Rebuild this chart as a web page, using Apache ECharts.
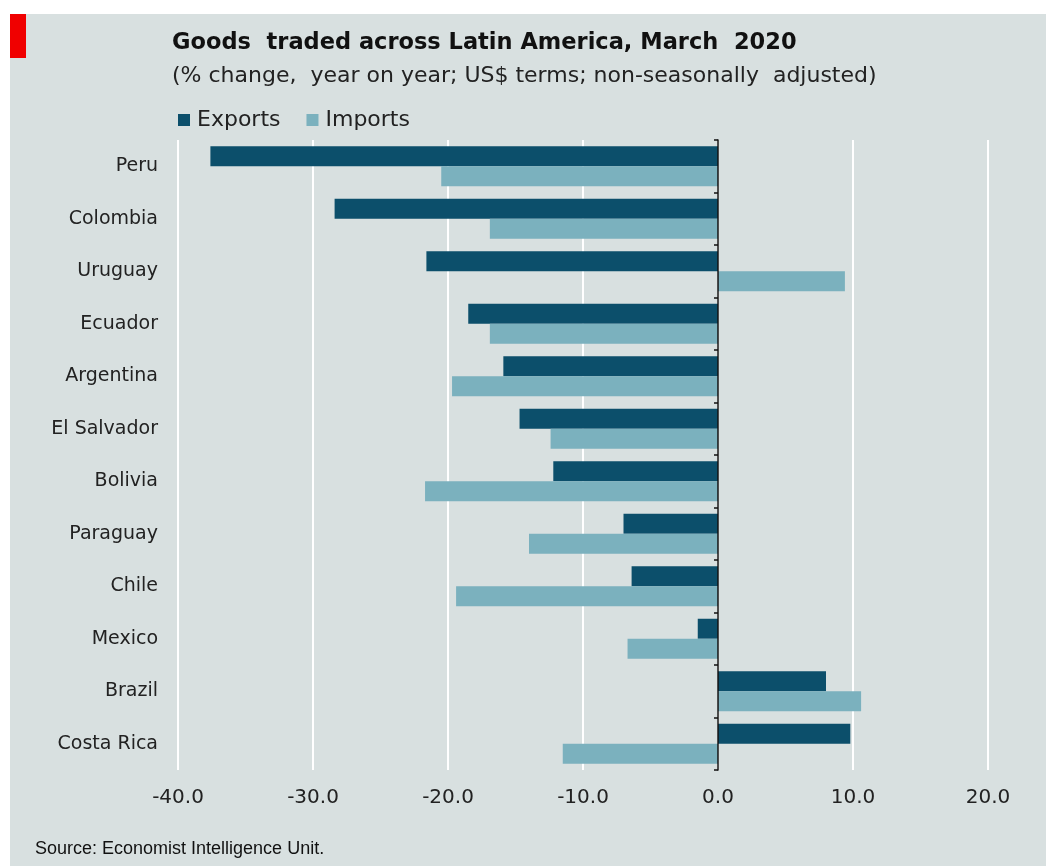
<!DOCTYPE html>
<html>
<head>
<meta charset="utf-8">
<script src="https://cdn.jsdelivr.net/npm/echarts@6/dist/echarts.min.js"></script>
<style>
  html, body { margin: 0; padding: 0; background: #ffffff; }
  #chart { width: 1046px; height: 866px; }
</style>
</head>
<body>
<div id="chart"></div>
<script>
// 国家（从上到下）
const countries = ["Peru", "Colombia", "Uruguay", "Ecuador", "Argentina", "El Salvador",
  "Bolivia", "Paraguay", "Chile", "Mexico", "Brazil", "Costa Rica"];
// 出口 / 进口 同比变化 %
const exportsData = [-37.6, -28.4, -21.6, -18.5, -15.9, -14.7, -12.2, -7.0, -6.4, -1.5, 8.0, 9.8];
const importsData = [-20.5, -16.9, 9.4, -16.9, -19.7, -12.4, -21.7, -14.0, -19.4, -6.7, 10.6, -11.5];
// x 轴刻度
const xMin = -40;
const xMax = 20;
const xStep = 10;

const chart = echarts.init(document.getElementById("chart"));
const font = "'DejaVu Sans', Verdana, sans-serif";

const option = {
  backgroundColor: "#ffffff",
  animation: false,
  graphic: [
    // 灰色底板
    { type: "rect", left: 10, top: 14, z: -10,
      shape: { width: 1036, height: 852 }, style: { fill: "#d8e0e0" } },
    // 左上角红块
    { type: "rect", left: 10, top: 14, z: -5,
      shape: { width: 16, height: 44 }, style: { fill: "#f00000" } },
    // 来源
    { type: "text", left: 35, top: 840,
      style: { text: "Source: Economist Intelligence Unit.", fill: "#111",
        font: "18px 'Liberation Sans Narrow', 'Arial Narrow', sans-serif" } },
  ],
  title: {
    text: "Goods  traded across Latin America, March  2020",
    subtext: "(% change,  year on year; US$ terms; non-seasonally  adjusted)",
    left: 167,
    top: 27,
    itemGap: 10,
    textStyle: { fontFamily: font, fontSize: 22.5, fontWeight: "bold", color: "#111" },
    subtextStyle: { fontFamily: font, fontSize: 22, color: "#222" },
  },
  legend: {
    left: 173,
    top: 104,
    itemWidth: 12,
    itemHeight: 12,
    itemGap: 26,
    icon: "rect",
    textStyle: { fontFamily: font, fontSize: 22, color: "#222", padding: [0, 0, 0, 2] },
    data: ["Exports", "Imports"],
  },
  grid: { left: 178, right: 58, top: 140, bottom: 96, containLabel: false },
  xAxis: {
    type: "value",
    min: xMin,
    max: xMax,
    interval: xStep,
    axisLine: { show: false },
    axisTick: { show: false },
    splitLine: { show: true, lineStyle: { color: "#ffffff", width: 2 } },
    axisLabel: {
      margin: 18,
      fontFamily: font,
      fontSize: 20,
      color: "#222",
      formatter: (v) => v.toFixed(1),
    },
  },
  yAxis: [
    {
      type: "category",
      data: countries,
      inverse: true,
      axisLine: { show: false, onZero: false },
      axisTick: { show: false },
      axisLabel: { margin: 20, fontFamily: font, fontSize: 19, color: "#222" },
    },
    {
      // 0 处的竖线和刻度
      type: "category",
      data: countries,
      inverse: true,
      position: "left",
      axisLine: { show: true, onZero: true, lineStyle: { color: "#111", width: 1.5 } },
      axisTick: { show: true, length: 4, lineStyle: { color: "#111", width: 1.5 } },
      axisLabel: { show: false },
      z: 10,
    },
  ],
  series: [
    {
      name: "Exports",
      type: "bar",
      data: exportsData,
      barWidth: 20,
      barGap: "0%",
      itemStyle: { color: "#0c4f6b" },
    },
    {
      name: "Imports",
      type: "bar",
      data: importsData,
      barWidth: 20,
      barGap: "0%",
      itemStyle: { color: "#7bb1be" },
    },
  ],
};

chart.setOption(option);
</script>
</body>
</html>
